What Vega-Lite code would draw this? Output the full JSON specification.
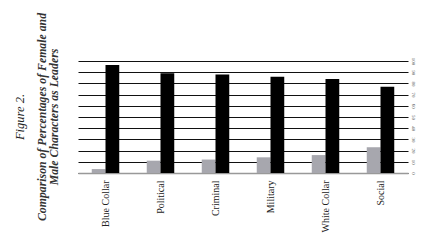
{
  "$schema": "https://vega.github.io/schema/vega-lite/v6.json",
  "autosize": {"type": "none"},
  "width": 330,
  "height": 112,
  "padding": {"left": 78, "top": 61, "right": 24, "bottom": 70},
  "background": "white",
  "title": {
    "text": "Figure 2.",
    "subtitle": ["Comparison of Percentages of Female and", "Male Characters as Leaders"],
    "orient": "left",
    "anchor": "middle",
    "font": "Liberation Serif",
    "fontStyle": "italic",
    "fontWeight": "normal",
    "fontSize": 12.5,
    "color": "#222",
    "subtitleFont": "Liberation Serif",
    "subtitleFontStyle": "italic",
    "subtitleFontWeight": "bold",
    "subtitleFontSize": 11.8,
    "subtitleColor": "#333",
    "subtitlePadding": 10,
    "subtitleLineHeight": 12.5,
    "offset": 17
  },
  "data": {
    "values": [
      {"role": "Blue Collar", "gender": "Female", "value": 3.5},
      {"role": "Blue Collar", "gender": "Male", "value": 96.5},
      {"role": "Political", "gender": "Female", "value": 11},
      {"role": "Political", "gender": "Male", "value": 89},
      {"role": "Criminal", "gender": "Female", "value": 12},
      {"role": "Criminal", "gender": "Male", "value": 88},
      {"role": "Military", "gender": "Female", "value": 14},
      {"role": "Military", "gender": "Male", "value": 86},
      {"role": "White Collar", "gender": "Female", "value": 16},
      {"role": "White Collar", "gender": "Male", "value": 84},
      {"role": "Social", "gender": "Female", "value": 23},
      {"role": "Social", "gender": "Male", "value": 77}
    ]
  },
  "mark": {"type": "bar"},
  "encoding": {
    "x": {
      "field": "role",
      "type": "nominal",
      "sort": null,
      "scale": {"paddingInner": 0.5, "paddingOuter": 0.25},
      "axis": {
        "title": null,
        "labelAngle": -90,
        "labelAlign": "right",
        "labelBaseline": "middle",
        "labelFont": "Liberation Serif",
        "labelFontSize": 10,
        "labelColor": "#222",
        "labelPadding": 7,
        "ticks": false,
        "domainColor": "#999",
        "domainWidth": 1.5,
        "grid": false
      }
    },
    "xOffset": {"field": "gender", "type": "nominal", "sort": ["Female", "Male"]},
    "y": {
      "field": "value",
      "type": "quantitative",
      "scale": {"domain": [0, 100], "nice": false},
      "axis": {
        "orient": "right",
        "title": null,
        "values": [0, 10, 20, 30, 40, 50, 60, 70, 80, 90, 100],
        "grid": true,
        "gridColor": "#111",
        "gridWidth": 1,
        "gridOpacity": 1,
        "domain": false,
        "tickSize": 0,
        "labelAngle": 90,
        "labelAlign": "center",
        "labelBaseline": "middle",
        "labelFont": "Liberation Serif",
        "labelFontSize": 5,
        "labelColor": "#555",
        "labelPadding": 5
      }
    },
    "color": {
      "field": "gender",
      "type": "nominal",
      "scale": {"domain": ["Female", "Male"], "range": ["#a7a7ae", "#000000"]},
      "legend": null
    }
  },
  "config": {"view": {"stroke": null}}
}
